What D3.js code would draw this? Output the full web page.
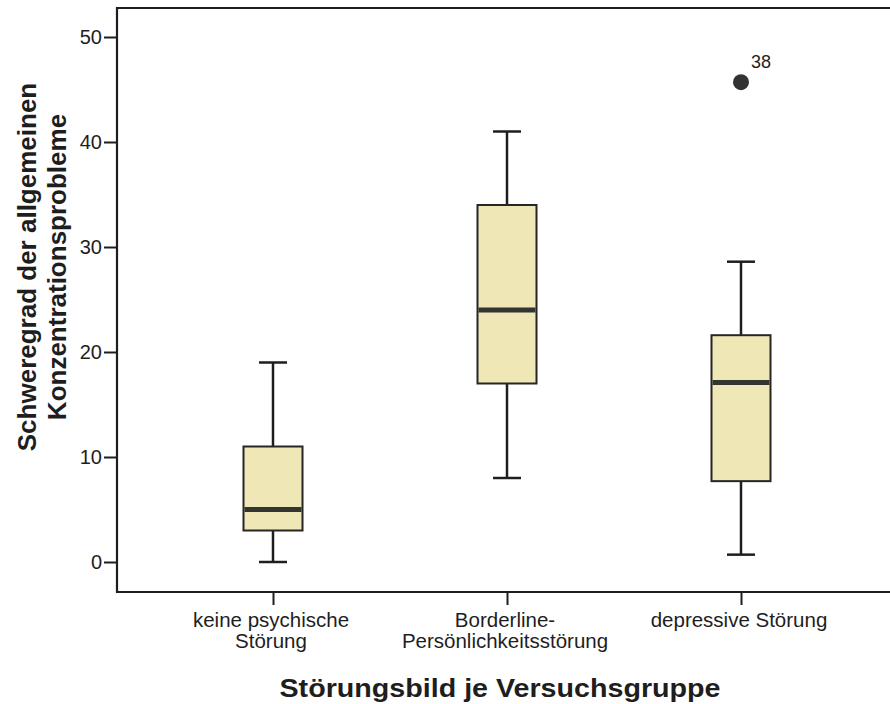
<!DOCTYPE html>
<html>
<head>
<meta charset="utf-8">
<script src="https://cdn.jsdelivr.net/npm/d3@7"></script>
<style>
  html, body { margin: 0; padding: 0; background: #ffffff; }
  svg { display: block; }
  text { font-family: "Liberation Sans", Arial, Helvetica, sans-serif; fill: #1e1e1e; }
</style>
</head>
<body>
<svg id="chart" width="890" height="704"></svg>
<script>
// Groups (each label split into its display lines)
const categories = ["keine psychische Störung", "Borderline-Persönlichkeitsstörung", "depressive Störung"];
const categoryLines = [["keine psychische", "Störung"], ["Borderline-", "Persönlichkeitsstörung"], ["depressive Störung"]];

// Five-number summaries per group
const whiskerLow  = [0, 8, 0.7];
const quartile1   = [3, 17, 7.7];
const medians     = [5, 24, 17.1];
const quartile3   = [11, 34, 21.6];
const whiskerHigh = [19, 41, 28.6];

// Outliers: group index, value, case number
const outlierGroup = [2];
const outlierValue = [45.7];
const outlierCase  = ["38"];

const yTicks = [0, 10, 20, 30, 40, 50];
const yTitleLines = ["Schweregrad der allgemeinen", "Konzentrationsprobleme"];
const xTitle = "Störungsbild je Versuchsgruppe";

const svg = d3.select("#chart");

const frame = { left: 117, right: 897, top: 8, bottom: 592 };

const x = d3.scalePoint()
  .domain(categories)
  .range([frame.left, frame.right])
  .padding(2 / 3);

const y = d3.scaleLinear()
  .domain([0, 50])
  .range([562, 37]);

const boxWidth = 59;
const capWidth = 28;
const ink = "#1e1e1e";

// Plot frame (top edge; left and bottom come from the axes)
svg.append("line")
  .attr("x1", frame.left).attr("x2", frame.right + 20)
  .attr("y1", frame.top).attr("y2", frame.top)
  .attr("stroke", ink).attr("stroke-width", 2);

// Y axis
const yAxis = d3.axisLeft(y).tickValues(yTicks).tickSize(13).tickPadding(2).tickSizeOuter(0);
const gy = svg.append("g").attr("transform", `translate(${frame.left},0)`).call(yAxis);
gy.select(".domain").remove();
gy.selectAll(".tick line").attr("stroke", ink).attr("stroke-width", 2);
gy.selectAll(".tick text")
  .style("font-size", "20px")
  .style("font-family", "'Liberation Sans', Arial, sans-serif")
  .attr("fill", ink);
svg.append("line")
  .attr("x1", frame.left).attr("x2", frame.left)
  .attr("y1", frame.top - 1).attr("y2", frame.bottom + 1)
  .attr("stroke", ink).attr("stroke-width", 2.2);

// X axis
const xAxis = d3.axisBottom(x).tickSize(13).tickFormat(() => "").tickSizeOuter(0);
const gx = svg.append("g").attr("transform", `translate(0,${frame.bottom})`).call(xAxis);
gx.select(".domain").remove();
gx.selectAll(".tick line").attr("stroke", ink).attr("stroke-width", 2);
svg.append("line")
  .attr("x1", frame.left - 1).attr("x2", frame.right + 20)
  .attr("y1", frame.bottom).attr("y2", frame.bottom)
  .attr("stroke", ink).attr("stroke-width", 2.2);

// Category labels
categories.forEach((c, i) => {
  const t = svg.append("text")
    .attr("x", x(c) - 2)
    .attr("y", 627)
    .attr("text-anchor", "middle")
    .style("font-size", "20.5px");
  categoryLines[i].forEach((line, k) => {
    t.append("tspan").attr("x", x(c) - 2).attr("dy", k === 0 ? 0 : 21).text(line);
  });
});

// Boxes
const groups = svg.append("g").selectAll("g.box")
  .data(categories.map((c, i) => ({
    c, lo: whiskerLow[i], q1: quartile1[i], med: medians[i], q3: quartile3[i], hi: whiskerHigh[i]
  })))
  .join("g").attr("class", "box");

// Whisker stems
groups.append("line")
  .attr("x1", d => x(d.c)).attr("x2", d => x(d.c))
  .attr("y1", d => y(d.hi)).attr("y2", d => y(d.q3))
  .attr("stroke", ink).attr("stroke-width", 2.5);
groups.append("line")
  .attr("x1", d => x(d.c)).attr("x2", d => x(d.c))
  .attr("y1", d => y(d.q1)).attr("y2", d => y(d.lo))
  .attr("stroke", ink).attr("stroke-width", 2.5);

// Whisker caps
groups.append("line")
  .attr("x1", d => x(d.c) - capWidth / 2).attr("x2", d => x(d.c) + capWidth / 2)
  .attr("y1", d => y(d.hi)).attr("y2", d => y(d.hi))
  .attr("stroke", ink).attr("stroke-width", 2.5);
groups.append("line")
  .attr("x1", d => x(d.c) - capWidth / 2).attr("x2", d => x(d.c) + capWidth / 2)
  .attr("y1", d => y(d.lo)).attr("y2", d => y(d.lo))
  .attr("stroke", ink).attr("stroke-width", 2.5);

// Interquartile box
groups.append("rect")
  .attr("x", d => x(d.c) - boxWidth / 2)
  .attr("width", boxWidth)
  .attr("y", d => y(d.q3))
  .attr("height", d => y(d.q1) - y(d.q3))
  .attr("fill", "#efe7b6")
  .attr("stroke", "#262626")
  .attr("stroke-width", 2);

// Median
groups.append("line")
  .attr("x1", d => x(d.c) - boxWidth / 2 + 1).attr("x2", d => x(d.c) + boxWidth / 2 - 1)
  .attr("y1", d => y(d.med)).attr("y2", d => y(d.med))
  .attr("stroke", "#333530").attr("stroke-width", 5);

// Outliers with case labels
outlierValue.forEach((v, i) => {
  const cx = x(categories[outlierGroup[i]]);
  svg.append("circle")
    .attr("cx", cx).attr("cy", y(v)).attr("r", 8)
    .attr("fill", "#333333");
  svg.append("text")
    .attr("x", cx + 10).attr("y", y(v) - 14)
    .style("font-size", "18px")
    .text(outlierCase[i]);
});

// Axis titles
const yt = svg.append("text")
  .attr("transform", "translate(0,267) rotate(-90)")
  .attr("text-anchor", "middle")
  .style("font-size", "26px")
  .style("font-weight", "bold");
yTitleLines.forEach((line, k) => {
  yt.append("tspan").attr("x", 0).attr("y", k === 0 ? 36 : 66).text(line);
});

svg.append("text")
  .attr("x", 500).attr("y", 697)
  .attr("text-anchor", "middle")
  .attr("textLength", 441)
  .attr("lengthAdjust", "spacingAndGlyphs")
  .style("font-size", "25px")
  .style("font-weight", "bold")
  .text(xTitle);
</script>
</body>
</html>
